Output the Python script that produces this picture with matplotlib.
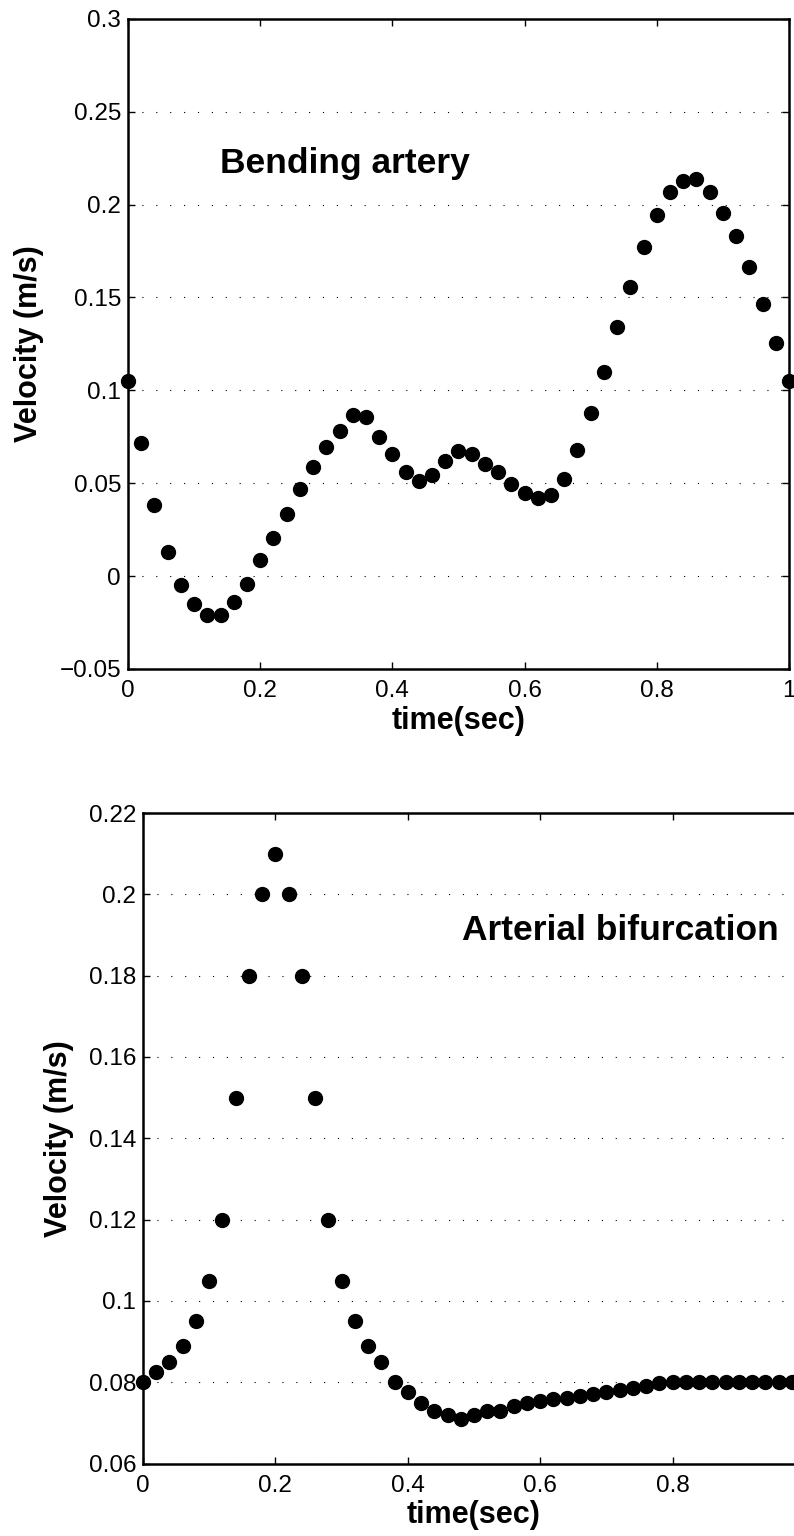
#!/usr/bin/env python3

import numpy as np
import matplotlib
matplotlib.use('Agg')
import matplotlib.pyplot as plt

plt.rcParams['font.family'] = ['Liberation Sans', 'DejaVu Sans']

# Bending artery: velocity sampled every 0.02 s
time_bend = [0.00, 0.02, 0.04, 0.06, 0.08, 0.10, 0.12, 0.14, 0.16, 0.18,
             0.20, 0.22, 0.24, 0.26, 0.28, 0.30, 0.32, 0.34, 0.36, 0.38,
             0.40, 0.42, 0.44, 0.46, 0.48, 0.50, 0.52, 0.54, 0.56, 0.58,
             0.60, 0.62, 0.64, 0.66, 0.68, 0.70, 0.72, 0.74, 0.76, 0.78,
             0.80, 0.82, 0.84, 0.86, 0.88, 0.90, 0.92, 0.94, 0.96, 0.98, 1.00]
vel_bend = [0.105, 0.0714, 0.0382, 0.0129, -0.0050, -0.0149, -0.0212, -0.0212, -0.0142, -0.0041,
            0.0084, 0.0206, 0.0336, 0.0467, 0.0589, 0.0696, 0.0783, 0.0867, 0.0858, 0.0749,
            0.0657, 0.0558, 0.0513, 0.0544, 0.0619, 0.0673, 0.0657, 0.0605, 0.0560, 0.0497,
            0.0445, 0.0418, 0.0434, 0.0520, 0.0680, 0.0880, 0.1097, 0.1343, 0.1555, 0.1772,
            0.1946, 0.2070, 0.2125, 0.2140, 0.2070, 0.1957, 0.1833, 0.1666, 0.1465, 0.1257, 0.1052]

# Arterial bifurcation
time_bif = time_bend
vel_bif = [0.080, 0.0825, 0.085, 0.089, 0.095, 0.105, 0.120, 0.150, 0.180, 0.200,
           0.210, 0.200, 0.180, 0.150, 0.120, 0.105, 0.095, 0.089, 0.085, 0.080,
           0.0775, 0.075, 0.073, 0.072, 0.071, 0.072, 0.073, 0.073, 0.0742, 0.0749,
           0.0754, 0.0758, 0.0762, 0.0767, 0.0771, 0.0777, 0.0782, 0.0787, 0.0792, 0.0798,
           0.080, 0.080, 0.080, 0.080, 0.080, 0.080, 0.080, 0.080, 0.080, 0.080, 0.080]

yticks_bend = [-0.05, 0.0, 0.05, 0.1, 0.15, 0.2, 0.25, 0.3]
ylabels_bend = ['\u22120.05', '0', '0.05', '0.1', '0.15', '0.2', '0.25', '0.3']
yticks_bif = [0.06, 0.08, 0.10, 0.12, 0.14, 0.16, 0.18, 0.20, 0.22]
ylabels_bif = ['0.06', '0.08', '0.1', '0.12', '0.14', '0.16', '0.18', '0.2', '0.22']
xticks = [0, 0.2, 0.4, 0.6, 0.8, 1.0]
xlabels_bend = ['0', '0.2', '0.4', '0.6', '0.8', '1']
xlabels_bif = ['0', '0.2', '0.4', '0.6', '0.8', '']  # the "1" falls outside the picture

fig = plt.figure(figsize=(7.94, 15.36), dpi=100)
ax1 = fig.add_axes([0.1612, 0.5645, 0.8325, 0.4232])
ax2 = fig.add_axes([0.1801, 0.0471, 0.8338, 0.4236])


def style(ax, yticks, ylabels, xlabels, ylim):
    ax.set_xlim(0, 1)
    ax.set_ylim(*ylim)
    ax.set_xticks(xticks)
    ax.set_xticklabels(xlabels)
    ax.set_yticks(yticks)
    ax.set_yticklabels(ylabels)
    ax.tick_params(direction='in', length=5, width=1, top=True, right=True,
                   labelsize=17.5, colors='black')
    ax.tick_params(axis='x', pad=8)
    ax.tick_params(axis='y', pad=5)
    for s in ax.spines.values():
        s.set_linewidth(1.8)
    ax.yaxis.grid(True, color='black', linestyle=(0, (1, 11.5)), linewidth=0.8)
    ax.set_axisbelow(True)
    ax.set_xlabel('time(sec)', fontsize=22, fontweight='bold')
    ax.set_ylabel('Velocity (m/s)', fontsize=22, fontweight='bold')


ax1.plot(time_bend, vel_bend, 'o', color='black', markersize=10, clip_on=False)
style(ax1, yticks_bend, ylabels_bend, xlabels_bend, (-0.05, 0.3))
ax1.xaxis.set_label_coords(0.5, -0.057)
ax1.yaxis.set_label_coords(-0.127, 0.5)
ax1.text(0.139, 0.222, 'Bending artery', fontsize=25.5, fontweight='bold',
         va='center', ha='left')

ax2.plot(time_bif, vel_bif, 'o', color='black', markersize=10, clip_on=False)
style(ax2, yticks_bif, ylabels_bif, xlabels_bif, (0.06, 0.22))
ax2.xaxis.set_label_coords(0.5, -0.056)
ax2.yaxis.set_label_coords(-0.104, 0.5)
ax2.text(0.482, 0.191, 'Arterial bifurcation', fontsize=25.5, fontweight='bold',
         va='center', ha='left')

plt.savefig('out.png', dpi=100)
